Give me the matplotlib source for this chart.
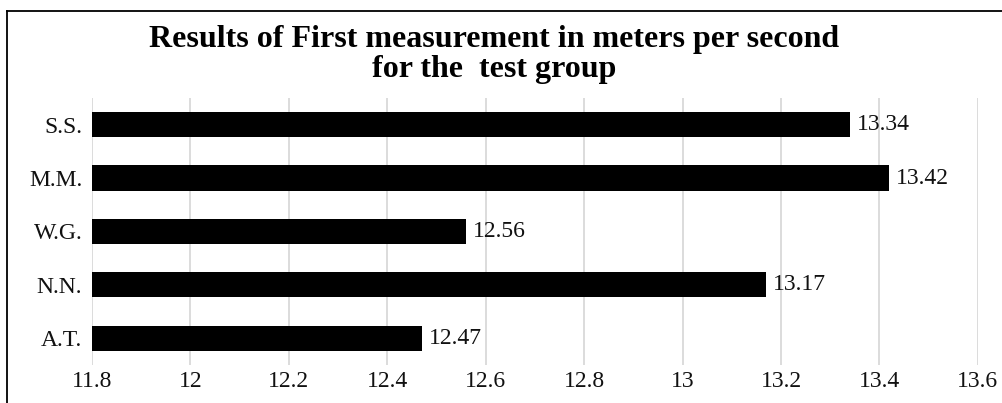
import matplotlib.pyplot as plt
from matplotlib.lines import Line2D

# Data
names = ["A.T.", "N.N.", "W.G.", "M.M.", "S.S."]
speeds = [12.47, 13.17, 12.56, 13.42, 13.34]
x_ticks = [11.8, 12.0, 12.2, 12.4, 12.6, 12.8, 13.0, 13.2, 13.4, 13.6]
x_tick_labels = ["11.8", "12", "12.2", "12.4", "12.6", "12.8", "13", "13.2", "13.4", "13.6"]

plt.rcParams['font.family'] = ['Liberation Serif', 'DejaVu Serif']

fig = plt.figure(figsize=(10.03, 4.03), dpi=100)
ax = fig.add_axes([0.0917, 0.0943, 0.8833, 0.6627])

ax.barh(names, speeds, height=0.47, color="black", zorder=3)
ax.set_xlim(11.8, 13.6)
ax.set_ylim(-0.5, len(names) - 0.5)
ax.set_xticks(x_ticks, x_tick_labels)
ax.tick_params(axis='both', length=0, labelsize=17, colors="#111111")
ax.tick_params(axis='x', pad=4)
ax.tick_params(axis='y', pad=7)
ax.grid(axis='x', color="#d9d9d9", linewidth=1.3, zorder=0)
for s in ax.spines.values():
    s.set_visible(False)

for i, v in enumerate(speeds):
    ax.annotate(f"{v:.2f}", (v, i), xytext=(5, 0), textcoords="offset points",
                va="center", ha="left", fontsize=17, color="#111111")

fig.text(0.4925, 1 - 47 / 403, "Results of First measurement in meters per second",
         ha="center", va="baseline", fontsize=23, fontweight="bold")
fig.text(0.4925, 1 - 77 / 403, "for the  test group",
         ha="center", va="baseline", fontsize=23, fontweight="bold")

# Outer border (only top and left edges visible in the crop)
fig.add_artist(Line2D([7 / 1003, 1.0], [1 - 11 / 403, 1 - 11 / 403],
                      transform=fig.transFigure, color="black", linewidth=1.3))
fig.add_artist(Line2D([7 / 1003, 7 / 1003], [0.0, 1 - 11 / 403],
                      transform=fig.transFigure, color="black", linewidth=1.3))

fig.savefig("out.png", dpi=100)
